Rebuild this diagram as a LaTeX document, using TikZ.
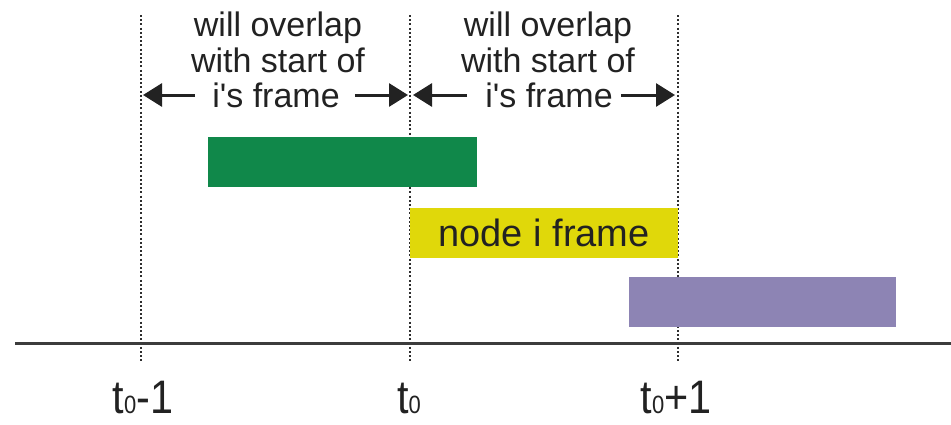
\documentclass[tikz,border=0pt]{standalone}
\usepackage{fontspec}
\setmainfont{Liberation Sans}
\newfontfamily\plainsans{Liberation Sans}
\usetikzlibrary{arrows.meta}
\definecolor{inkgray}{HTML}{222222}
\definecolor{axisgray}{HTML}{3C3C3C}
\definecolor{dotgray}{HTML}{2E2E2E}
\definecolor{framegreen}{HTML}{10884A}
\definecolor{frameyellow}{HTML}{E0D80A}
\definecolor{framepurple}{HTML}{8D84B4}
\newcommand\tsub{{\fontsize{25}{25}\selectfont 0}}
\begin{document}
\begin{tikzpicture}[x=1pt,y=-1pt,
  guide/.style={draw=dotgray, line width=2.8pt, dash pattern=on 2pt off 2.2pt},
  axisline/.style={draw=axisgray, line width=3pt},
  span/.style={draw=inkgray, line width=3pt, -{Triangle[length=19pt,width=23pt]}},
  note/.style={font=\plainsans\fontsize{34}{36}\selectfont, text=inkgray, inner sep=0pt, anchor=base},
  tick/.style={font=\plainsans\fontsize{47}{47}\selectfont, text=inkgray, inner sep=0pt, anchor=base},
  framebar/.style={inner sep=0pt, minimum height=50pt, anchor=north west}]
  \useasboundingbox (0,0) rectangle (951,424);

  % time grid: dotted guides at t0-1, t0, t0+1
  \coordinate (gA1) at (141,15);  \coordinate (gA2) at (141,363);
  \coordinate (gB1) at (410,15);  \coordinate (gB2) at (410,363);
  \coordinate (gC1) at (678,15);  \coordinate (gC2) at (678,363);
  \draw[guide] (gA1) -- (gA2);
  \draw[guide] (gB1) -- (gB2);
  \draw[guide] (gC1) -- (gC2);

  % time axis
  \coordinate (axL) at (15,343);
  \coordinate (axR) at (951,343);
  \draw[axisline] (axL) -- (axR);

  % neighbouring and own frames
  \node[framebar, fill=framegreen, minimum width=269pt] (prev) at (208,137) {};
  \node[framebar, fill=frameyellow, minimum width=268pt,
        font=\plainsans\fontsize{38}{40}\selectfont, text=inkgray] (own) at (410,208) {node i frame};
  \node[framebar, fill=framepurple, minimum width=267pt] (next) at (629,277) {};

  % overlap annotations
  \node[note] (wL1) at (278,36) {will overlap};
  \node[note] (wL2) at (278,72) {with start of};
  \node[note] (wL3) at (276,107) {i's frame};
  \node[note] (wR1) at (548,36) {will overlap};
  \node[note] (wR2) at (548,72) {with start of};
  \node[note] (wR3) at (549,107) {i's frame};

  \coordinate (aL) at (143,95);
  \coordinate (aM1) at (408,95);
  \coordinate (aM2) at (413,95);
  \coordinate (aR) at (675,95);
  \draw[span, shorten <=17pt] (wL3.west |- aL) -- (aL);
  \draw[span, shorten <=15pt] (wL3.east |- aM1) -- (aM1);
  \draw[span, shorten <=18pt] (wR3.west |- aM2) -- (aM2);
  \draw[span, shorten <=8pt] (wR3.east |- aR) -- (aR);

  % tick labels
  \node[tick] (tA) at (143,413) {\scalebox{0.88}[1]{t\tsub-1}};
  \node[tick] (tB) at (409,413) {\scalebox{0.88}[1]{t\tsub}};
  \node[tick] (tC) at (676,413) {\scalebox{0.88}[1]{t\tsub+1}};
\end{tikzpicture}
\end{document}
